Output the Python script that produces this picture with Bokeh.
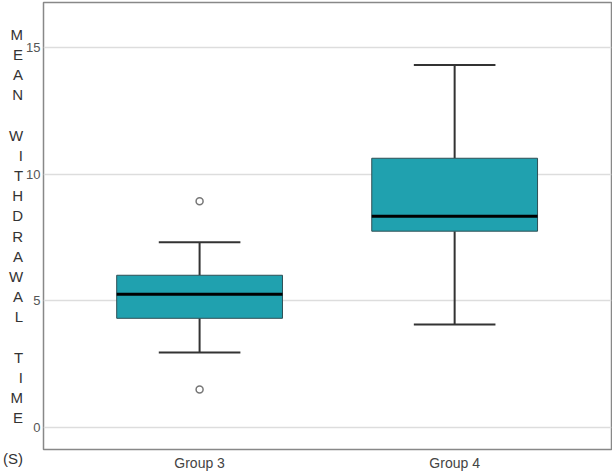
from bokeh.plotting import figure
from bokeh.models import Range1d, FixedTicker, ColumnDataSource
from bokeh.embed import file_html
from bokeh.resources import INLINE

groups = ["Group 3", "Group 4"]
q1 = [4.31, 7.75]
median = [5.26, 8.34]
q3 = [6.01, 10.63]
whisker_low = [2.96, 4.07]
whisker_high = [7.31, 14.31]
outlier_group = ["Group 3", "Group 3"]
outlier_values = [8.93, 1.50]
y_ticks = [0, 5, 10, 15]
y_label_lines = ["M", "E", "A", "N", "", "W", "I", "T", "H", "D", "R", "A", "W", "A", "L", "", "T", "I", "M", "E", "", "(S)"]

FONT = "Liberation Sans"
BOX_W = 0.65
CAP_W = 0.32

xs = [i + 0.5 for i in range(len(groups))]
src = ColumnDataSource(dict(
    x=xs, q1=q1, med=median, q3=q3, lo=whisker_low, hi=whisker_high,
    bl=[x - BOX_W / 2 for x in xs], br=[x + BOX_W / 2 for x in xs],
    cl=[x - CAP_W / 2 for x in xs], cr=[x + CAP_W / 2 for x in xs],
))
osrc = ColumnDataSource(dict(x=[groups.index(g) + 0.5 for g in outlier_group], y=outlier_values))

p = figure(width=612, height=474, output_backend="svg", toolbar_location=None,
           x_range=Range1d(-0.112, 2.115), y_range=Range1d(-0.87, 16.78),
           min_border_left=43, min_border_right=1, min_border_top=2, min_border_bottom=25)
p.background_fill_color = "white"
p.border_fill_color = "white"
p.outline_line_color = "#888888"
p.outline_line_width = 1.5

p.xgrid.grid_line_color = None
p.ygrid.grid_line_color = "#dddddd"
p.ygrid.grid_line_width = 1.5

p.yaxis.ticker = FixedTicker(ticks=y_ticks)
p.xaxis.ticker = FixedTicker(ticks=xs)
p.xaxis.major_label_overrides = {x: g for x, g in zip(xs, groups)}
for ax in (p.xaxis, p.yaxis):
    ax.axis_line_color = None
    ax.major_tick_line_color = None
    ax.minor_tick_line_color = None
    ax.major_tick_out = 0
    ax.major_tick_in = 0
    ax.major_label_text_font = FONT
    ax.major_label_text_color = "#555555"
p.yaxis.major_label_text_font_size = "13px"
p.xaxis.major_label_text_font_size = "14px"
p.yaxis.major_label_standoff = 3
p.xaxis.major_label_standoff = 5
p.xaxis.major_label_text_color = "#444444"

p.yaxis.axis_label = "\n".join(["", ""] + y_label_lines)
p.yaxis.axis_label_orientation = "horizontal"
p.yaxis.axis_label_text_font = FONT
p.yaxis.axis_label_text_font_size = "15px"
p.yaxis.axis_label_text_font_style = "normal"
p.yaxis.axis_label_text_color = "#333333"
p.yaxis.axis_label_text_align = "left"
p.yaxis.axis_label_text_line_height = 1.188
p.yaxis.axis_label_standoff = 0

# whiskers
p.segment(x0="x", y0="q3", x1="x", y1="hi", source=src, line_color="#333333", line_width=2)
p.segment(x0="x", y0="lo", x1="x", y1="q1", source=src, line_color="#333333", line_width=2)
p.segment(x0="cl", y0="hi", x1="cr", y1="hi", source=src, line_color="#333333", line_width=2)
p.segment(x0="cl", y0="lo", x1="cr", y1="lo", source=src, line_color="#333333", line_width=2)
# boxes
p.vbar(x="x", width=BOX_W, bottom="q1", top="q3", source=src,
       fill_color="#20A1AF", line_color="#2f4f55", line_width=1)
p.segment(x0="bl", y0="med", x1="br", y1="med", source=src, line_color="black", line_width=3)
# outliers
p.scatter(x="x", y="y", source=osrc, marker="circle", size=7,
          fill_color="white", line_color="#777777", line_width=1.5)

open("out.html", "w").write(file_html(p, INLINE))
